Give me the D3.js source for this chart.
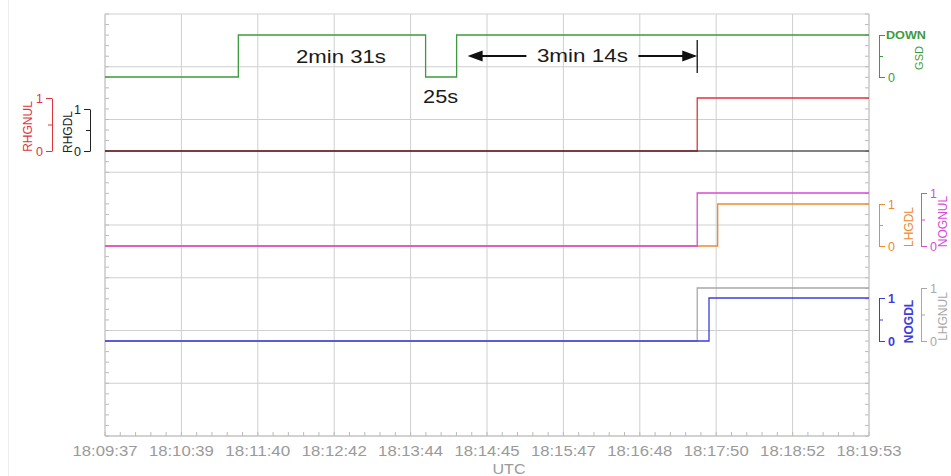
<!DOCTYPE html>
<html>
<head>
<meta charset="utf-8">
<script src="https://cdn.jsdelivr.net/npm/d3@7"></script>
<style>
  html, body { margin: 0; padding: 0; background: #fff; }
  svg { display: block; font-family: "Liberation Sans", Arial, sans-serif; }
</style>
</head>
<body>
<svg id="chart" width="951" height="476"></svg>
<script>
// Time axis: seconds elapsed since 18:09:37 UTC
const timeSpan = [0, 616];
const tickLabels = ["18:09:37", "18:10:39", "18:11:40", "18:12:42", "18:13:44", "18:14:45",
                    "18:15:47", "18:16:48", "18:17:50", "18:18:52", "18:19:53"];

// Discrete signals as step sequences (value holds until next change)
const gsdTimes    = [0, 107.5, 258.5, 283.5, 616];
const gsdValues   = [0, 1, 0, 1, 1];
const rhgnulTimes = [0, 477.5, 616];
const rhgnulValues= [0, 1, 1];
const rhgdlTimes  = [0, 616];
const rhgdlValues = [0, 0];
const lhgdlTimes  = [0, 494, 616];
const lhgdlValues = [0, 1, 1];
const nognulTimes = [0, 477.5, 616];
const nognulValues= [0, 1, 1];
const lhgnulTimes = [0, 477.5, 616];
const lhgnulValues= [0, 1, 1];
const nogdlTimes  = [0, 487, 616];
const nogdlValues = [0, 1, 1];

const svg = d3.select("#chart");
const plot = { left: 105, right: 869, top: 14, bottom: 436 };

const x = d3.scaleLinear().domain(timeSpan).range([plot.left, plot.right]);
const gridY = d3.scaleLinear().domain([0, 8]).range([plot.top, plot.bottom]);

// faint page margin rule
svg.append("line").attr("x1", 8.5).attr("x2", 8.5).attr("y1", 0).attr("y2", 476)
  .attr("stroke", "#ececec");

// ---- grid ----
const grid = svg.append("g");
const majorTicks = tickLabels.map((_, i) => timeSpan[0] + i * (timeSpan[1] - timeSpan[0]) / (tickLabels.length - 1));
grid.selectAll("line.v").data(majorTicks).join("line")
  .attr("x1", d => x(d)).attr("x2", d => x(d))
  .attr("y1", plot.top).attr("y2", plot.bottom)
  .attr("stroke", "#cfcfcf").attr("stroke-width", 1);
grid.selectAll("line.h").data(d3.range(0, 9)).join("line")
  .attr("x1", plot.left).attr("x2", plot.right)
  .attr("y1", d => gridY(d)).attr("y2", d => gridY(d))
  .attr("stroke", "#cfcfcf").attr("stroke-width", 1);

// minor ticks along the frame (inside)
const minorX = d3.range(0, 51).map(i => timeSpan[0] + i * (timeSpan[1] - timeSpan[0]) / 50);
grid.selectAll("line.mx").data(minorX).join("line")
  .attr("x1", d => x(d)).attr("x2", d => x(d))
  .attr("y1", plot.bottom).attr("y2", plot.bottom - 4)
  .attr("stroke", "#bbb");
const minorY = d3.range(0, 41).map(i => i / 5);
grid.selectAll("line.myl").data(minorY).join("line")
  .attr("x1", plot.left).attr("x2", plot.left + 4)
  .attr("y1", d => gridY(d)).attr("y2", d => gridY(d))
  .attr("stroke", "#bbb");
grid.selectAll("line.myr").data(minorY).join("line")
  .attr("x1", plot.right).attr("x2", plot.right - 4)
  .attr("y1", d => gridY(d)).attr("y2", d => gridY(d))
  .attr("stroke", "#bbb");
grid.append("line").attr("x1", plot.left).attr("x2", plot.left)
  .attr("y1", plot.top).attr("y2", plot.bottom).attr("stroke", "#c4c4c4");
grid.append("line").attr("x1", plot.right).attr("x2", plot.right)
  .attr("y1", plot.top).attr("y2", plot.bottom).attr("stroke", "#c4c4c4");
grid.append("line").attr("x1", plot.left).attr("x2", plot.right)
  .attr("y1", plot.bottom).attr("y2", plot.bottom).attr("stroke", "#bdbdbd");

// ---- bottom axis labels ----
svg.append("g").selectAll("text").data(majorTicks).join("text")
  .attr("x", d => x(d)).attr("y", 456)
  .attr("text-anchor", "middle")
  .attr("font-size", 15.5).attr("fill", "#9a9a9a")
  .attr("textLength", 65).attr("lengthAdjust", "spacingAndGlyphs")
  .text((d, i) => tickLabels[i]);
svg.append("text").attr("x", 509).attr("y", 474)
  .attr("text-anchor", "middle").attr("font-size", 15).attr("fill", "#9a9a9a")
  .attr("textLength", 33).attr("lengthAdjust", "spacingAndGlyphs")
  .text("UTC");

// ---- signal tracks ----
const tracks = [
  { name: "RHGNUL", times: rhgnulTimes, values: rhgnulValues, color: "#e0343c", y0: 151, y1: 98,
    side: "left", axisX: 52, labelX: 32, bold: false, top: "1" },
  { name: "RHGDL", times: rhgdlTimes, values: rhgdlValues, color: "#222222", y0: 151, y1: 109,
    side: "left", axisX: 90, labelX: 72, bold: false, top: "1" },
  { name: "LHGDL", times: lhgdlTimes, values: lhgdlValues, color: "#ee8a30", y0: 246, y1: 204,
    side: "right", axisX: 879, labelX: 913, bold: false, top: "1" },
  { name: "NOGNUL", times: nognulTimes, values: nognulValues, color: "#d84ad8", y0: 246, y1: 193,
    side: "right", axisX: 921, labelX: 947, bold: false, top: "1" },
  { name: "LHGNUL", times: lhgnulTimes, values: lhgnulValues, color: "#a8a8a8", y0: 341, y1: 288,
    side: "right", axisX: 921, labelX: 947, bold: false, top: "1" },
  { name: "NOGDL", times: nogdlTimes, values: nogdlValues, color: "#3c3ce0", y0: 341, y1: 298,
    side: "right", axisX: 879, labelX: 913, bold: true, top: "1" },
  { name: "GSD", times: gsdTimes, values: gsdValues, color: "#3e9a3e", y0: 77, y1: 35,
    side: "right", axisX: 879, labelX: 923, bold: false, top: "DOWN" }
];

const lineGen = (yScale) => d3.line()
  .x(d => x(d[0])).y(d => yScale(d[1]))
  .curve(d3.curveStepAfter);

tracks.forEach(t => {
  t.y = d3.scaleLinear().domain([0, 1]).range([t.y0, t.y1]);
});

// draw order: lower layers first so overlapping zero lines show the right colour
const drawOrder = ["RHGNUL", "RHGDL", "LHGDL", "NOGNUL", "LHGNUL", "NOGDL", "GSD"];
drawOrder.forEach(n => {
  const t = tracks.find(d => d.name === n);
  const pts = t.times.map((tm, i) => [tm, t.values[i]]);
  svg.append("path").datum(pts)
    .attr("d", lineGen(t.y))
    .attr("fill", "none")
    .attr("stroke", t.color)
    .attr("stroke-width", 1.3)
    .attr("opacity", n === "RHGDL" ? 0.75 : 1);
});

// per-track value brackets
tracks.forEach(t => {
  const axis = (t.side === "left" ? d3.axisLeft(t.y) : d3.axisRight(t.y))
    .tickValues([0, 0.5, 1])
    .tickSizeInner(6).tickSizeOuter(0).tickPadding(3)
    .tickFormat(v => v === 1 ? t.top : v === 0 ? "0" : "");
  const g = svg.append("g").attr("transform", `translate(${t.axisX},0)`).call(axis);
  g.select(".domain").attr("stroke", t.color);
  g.selectAll(".tick line").attr("stroke", t.color)
    .attr("x2", v => (t.side === "left" ? -1 : 1) * (v === 0.5 ? 4 : 6));
  g.selectAll(".tick text").attr("fill", t.color)
    .attr("font-family", "Liberation Sans, Arial, sans-serif")
    .attr("font-size", v => v === 1 && t.top !== "1" ? 10 : 12.5)
    .attr("font-weight", v => (t.bold || (v === 1 && t.top !== "1")) ? "bold" : "normal");
  if (t.top !== "1") {
    g.selectAll(".tick text").filter(v => v === 1)
      .attr("textLength", 40).attr("lengthAdjust", "spacingAndGlyphs").attr("dx", -2);
  }
  svg.append("text")
    .attr("transform", `translate(${t.labelX},${(t.y0 + t.y1) / 2 + 2}) rotate(-90)`)
    .attr("text-anchor", "middle")
    .attr("font-size", t.name === "GSD" ? 11 : 12)
    .attr("font-weight", t.bold ? "bold" : "normal")
    .attr("fill", t.color)
    .text(t.name);
});

// ---- duration annotations on the GSD trace ----
const fmtDur = s => {
  const m = Math.floor(Math.round(s) / 60), r = Math.round(s) % 60;
  return m > 0 ? `${m}min ${r}s` : `${r}s`;
};
const eventT = rhgnulTimes[1];
const ann = svg.append("g").attr("font-size", 19).attr("fill", "#1a1a1a");

ann.append("text")
  .attr("x", (x(gsdTimes[1]) + x(gsdTimes[2])) / 2 + 9).attr("y", 63)
  .attr("text-anchor", "middle")
  .attr("textLength", 90).attr("lengthAdjust", "spacingAndGlyphs")
  .text(fmtDur(gsdTimes[2] - gsdTimes[1]));
ann.append("text")
  .attr("x", (x(gsdTimes[2]) + x(gsdTimes[3])) / 2 - 0.5).attr("y", 103)
  .attr("text-anchor", "middle")
  .attr("textLength", 35).attr("lengthAdjust", "spacingAndGlyphs")
  .text(fmtDur(gsdTimes[3] - gsdTimes[2]));

const aL = x(gsdTimes[3]) + 11, aR = x(eventT);
const aMid = (aL + aR) / 2, ay = 56;
ann.append("text").attr("x", aMid).attr("y", 62).attr("text-anchor", "middle")
  .attr("textLength", 91).attr("lengthAdjust", "spacingAndGlyphs")
  .text(fmtDur(eventT - gsdTimes[3]));
const gap = 56;
ann.append("line").attr("x1", aL + 12).attr("x2", aMid - gap).attr("y1", ay).attr("y2", ay)
  .attr("stroke", "#111").attr("stroke-width", 2.2);
ann.append("line").attr("x1", aMid + gap).attr("x2", aR - 12).attr("y1", ay).attr("y2", ay)
  .attr("stroke", "#111").attr("stroke-width", 2.2);
ann.append("path").attr("d", `M${aL},${ay} L${aL + 15},${ay - 5.5} L${aL + 15},${ay + 5.5} Z`).attr("fill", "#111");
ann.append("path").attr("d", `M${aR},${ay} L${aR - 15},${ay - 5.5} L${aR - 15},${ay + 5.5} Z`).attr("fill", "#111");
ann.append("line").attr("x1", aR).attr("x2", aR).attr("y1", 40).attr("y2", 73)
  .attr("stroke", "#111").attr("stroke-width", 1.3);
</script>
</body>
</html>
